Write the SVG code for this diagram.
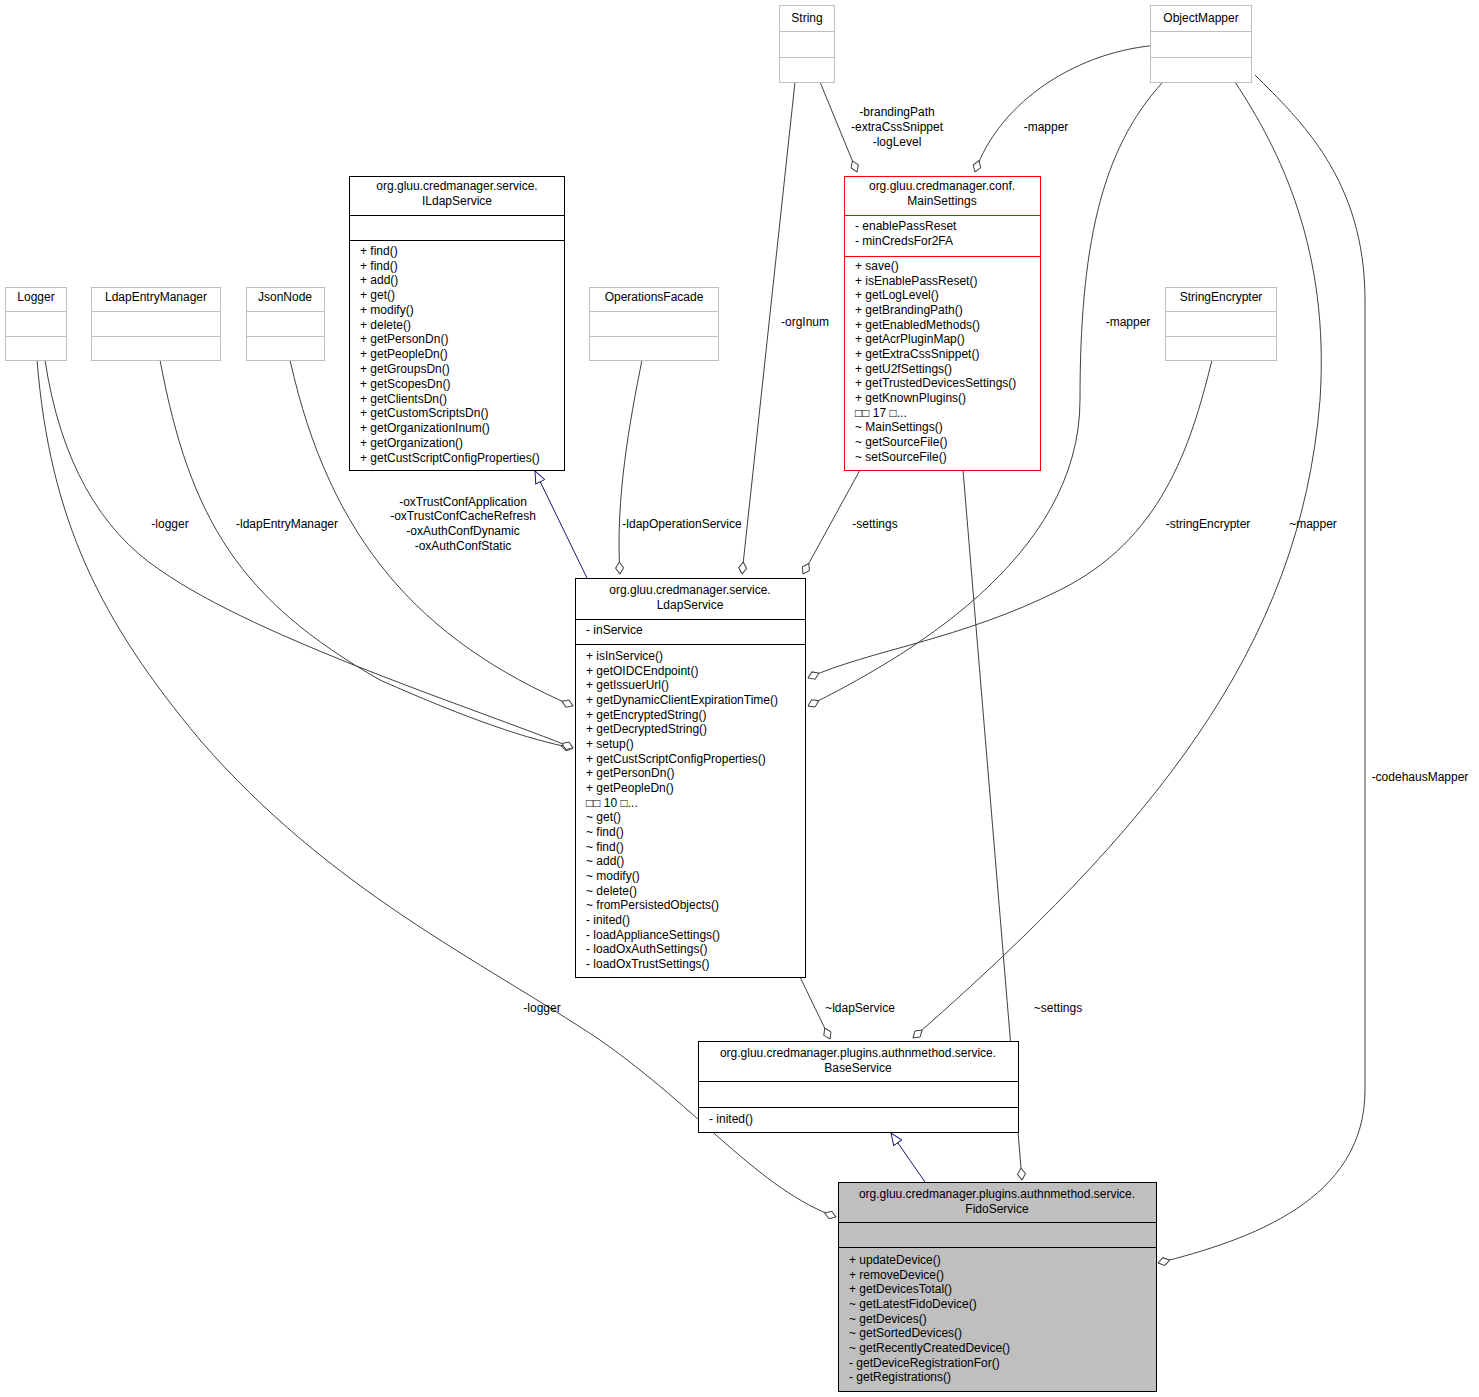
<svg xmlns="http://www.w3.org/2000/svg" width="1479" height="1397" viewBox="0 0 1479 1397">
<style>
text{font-family:"Liberation Sans",Arial,sans-serif;font-size:12px;fill:#000}
.c{text-anchor:middle}
.box{fill:#fff;stroke:#000;stroke-width:1}
.gbox{fill:#fff;stroke:#bfbfbf;stroke-width:1}
.rbox{fill:#fff;stroke:#f00;stroke-width:1}
.fbox{fill:#bfbfbf;stroke:#000;stroke-width:1}
.e{fill:none;stroke:#404040;stroke-width:1;marker-end:url(#dia)}
.inh{fill:none;stroke:#191970;stroke-width:1;marker-end:url(#tri)}
</style>
<defs>
<marker id="dia" viewBox="0 0 13 9" refX="12.5" refY="4.5" markerWidth="13" markerHeight="9" markerUnits="userSpaceOnUse" orient="auto"><path d="M0.5,4.5 L6.5,0.5 L12.5,4.5 L6.5,8.5 Z" fill="#fff" stroke="#404040"/></marker>
<marker id="tri" viewBox="0 0 13 11" refX="12.5" refY="5.5" markerWidth="13" markerHeight="11" markerUnits="userSpaceOnUse" orient="auto"><path d="M0.5,0.5 L12.5,5.5 L0.5,10.5 Z" fill="#fff" stroke="#191970"/></marker>
</defs>
<rect width="1479" height="1397" fill="#fff"/>
<g id="edges">
<path class="e" d="M820,82 L857,172"/>
<text class="c" x="897" y="116">-brandingPath</text><text class="c" x="897" y="131">-extraCssSnippet</text><text class="c" x="897" y="146">-logLevel</text>
<path class="e" d="M1160,45 C1080,50 1000,100 975,172"/>
<text class="c" x="1046" y="131">-mapper</text>
<path class="e" d="M795,82 L742,574"/>
<text class="c" x="805" y="326">-orgInum</text>
<path class="e" d="M1163,82 C1100,150 1080,250 1080,400 C1080,560 900,660 808,706"/>
<text class="c" x="1128" y="326">-mapper</text>
<path class="e" d="M1212,360 C1190,450 1160,540 1060,590 C960,640 870,650 808,678"/>
<text class="c" x="1208" y="528">-stringEncrypter</text>
<path class="e" d="M1235,82 C1280,150 1330,250 1320,400 C1300,650 1150,830 913,1038"/>
<text class="c" x="1313" y="528">~mapper</text>
<path class="e" d="M1255,75 C1300,120 1365,180 1365,300 L1365,1090 C1365,1200 1250,1240 1158,1263"/>
<text class="c" x="1420" y="781">-codehausMapper</text>
<path class="e" d="M860,470 L803,574"/>
<text class="c" x="875" y="528">-settings</text>
<path class="e" d="M963,470 L1022,1180"/>
<text class="c" x="1058" y="1012">~settings</text>
<path class="inh" d="M587,578 L535,471"/>
<path class="e" d="M642,360 C630,420 615,500 620,574"/>
<text class="c" x="682" y="528">-ldapOperationService</text>
<path class="e" d="M290,360 C330,540 420,640 573,706"/>
<text class="c" x="463" y="506">-oxTrustConfApplication</text><text class="c" x="463" y="520">-oxTrustConfCacheRefresh</text><text class="c" x="463" y="535">-oxAuthConfDynamic</text><text class="c" x="463" y="550">-oxAuthConfStatic</text>
<path class="e" d="M160,360 C190,520 240,600 380,680 C470,720 530,740 573,748"/>
<text class="c" x="287" y="528">-ldapEntryManager</text>
<path class="e" d="M45,360 C60,460 100,530 160,570 C260,640 480,710 573,748"/>
<text class="c" x="170" y="528">-logger</text>
<path class="e" d="M37,360 C50,520 100,620 200,740 C330,890 480,960 600,1040 C700,1110 760,1190 836,1217"/>
<text class="c" x="542" y="1012">-logger</text>
<path class="e" d="M800,977 L830,1039"/>
<text class="c" x="860" y="1012">~ldapService</text>
<path class="inh" d="M925,1182 L891,1133"/>
</g>
<g id="String"><rect class="gbox" x="779.5" y="5.5" width="55" height="77"/><path d="M779.5,31.5H834.5M779.5,57.5H834.5" stroke="#bfbfbf"/><text class="c" x="807" y="22">String</text></g>
<g id="ObjectMapper"><rect class="gbox" x="1150.5" y="5.5" width="101" height="77"/><path d="M1150.5,31.5H1251.5M1150.5,57.5H1251.5" stroke="#bfbfbf"/><text class="c" x="1201" y="22">ObjectMapper</text></g>
<g id="Logger"><rect class="gbox" x="5.5" y="287.5" width="61" height="73"/><path d="M5.5,311.5H66.5M5.5,336.5H66.5" stroke="#bfbfbf"/><text class="c" x="36" y="301">Logger</text></g>
<g id="LdapEntryManager"><rect class="gbox" x="91.5" y="287.5" width="129" height="73"/><path d="M91.5,311.5H220.5M91.5,336.5H220.5" stroke="#bfbfbf"/><text class="c" x="156" y="301">LdapEntryManager</text></g>
<g id="JsonNode"><rect class="gbox" x="246.5" y="287.5" width="78" height="73"/><path d="M246.5,311.5H324.5M246.5,336.5H324.5" stroke="#bfbfbf"/><text class="c" x="285" y="301">JsonNode</text></g>
<g id="OperationsFacade"><rect class="gbox" x="589.5" y="287.5" width="129" height="73"/><path d="M589.5,311.5H718.5M589.5,336.5H718.5" stroke="#bfbfbf"/><text class="c" x="654" y="301">OperationsFacade</text></g>
<g id="StringEncrypter"><rect class="gbox" x="1165.5" y="287.5" width="111" height="73"/><path d="M1165.5,311.5H1276.5M1165.5,336.5H1276.5" stroke="#bfbfbf"/><text class="c" x="1221" y="301">StringEncrypter</text></g>
<g id="ILdapService"><rect class="box" x="349.5" y="176.5" width="215" height="294"/><path d="M349.5,215.5H564.5M349.5,240.5H564.5" stroke="#000"/>
<text class="c" x="457" y="190">org.gluu.credmanager.service.</text><text class="c" x="457" y="205">ILdapService</text>
<text x="360" y="255">+ find()</text><text x="360" y="270">+ find()</text><text x="360" y="284">+ add()</text><text x="360" y="299">+ get()</text><text x="360" y="314">+ modify()</text><text x="360" y="329">+ delete()</text><text x="360" y="343">+ getPersonDn()</text><text x="360" y="358">+ getPeopleDn()</text><text x="360" y="373">+ getGroupsDn()</text><text x="360" y="388">+ getScopesDn()</text><text x="360" y="403">+ getClientsDn()</text><text x="360" y="417">+ getCustomScriptsDn()</text><text x="360" y="432">+ getOrganizationInum()</text><text x="360" y="447">+ getOrganization()</text><text x="360" y="462">+ getCustScriptConfigProperties()</text></g>
<g id="MainSettings"><rect class="rbox" x="844.5" y="176.5" width="196" height="294"/><path d="M844.5,215.5H1040.5M844.5,256.5H1040.5" stroke="#f00"/>
<text class="c" x="942" y="190">org.gluu.credmanager.conf.</text><text class="c" x="942" y="205">MainSettings</text>
<text x="855" y="230">- enablePassReset</text><text x="855" y="245">- minCredsFor2FA</text>
<text x="855" y="270">+ save()</text><text x="855" y="285">+ isEnablePassReset()</text><text x="855" y="299">+ getLogLevel()</text><text x="855" y="314">+ getBrandingPath()</text><text x="855" y="329">+ getEnabledMethods()</text><text x="855" y="343">+ getAcrPluginMap()</text><text x="855" y="358">+ getExtraCssSnippet()</text><text x="855" y="373">+ getU2fSettings()</text><text x="855" y="387">+ getTrustedDevicesSettings()</text><text x="855" y="402">+ getKnownPlugins()</text><text x="855" y="417">□□ 17 □...</text><text x="855" y="431">~ MainSettings()</text><text x="855" y="446">~ getSourceFile()</text><text x="855" y="461">~ setSourceFile()</text></g>
<g id="LdapService"><rect class="box" x="575.5" y="578.5" width="230" height="399"/><path d="M575.5,619.5H805.5M575.5,644.5H805.5" stroke="#000"/>
<text class="c" x="690" y="594">org.gluu.credmanager.service.</text><text class="c" x="690" y="609">LdapService</text>
<text x="586" y="634">- inService</text>
<text x="586" y="660">+ isInService()</text><text x="586" y="675">+ getOIDCEndpoint()</text><text x="586" y="689">+ getIssuerUrl()</text><text x="586" y="704">+ getDynamicClientExpirationTime()</text><text x="586" y="719">+ getEncryptedString()</text><text x="586" y="733">+ getDecryptedString()</text><text x="586" y="748">+ setup()</text><text x="586" y="763">+ getCustScriptConfigProperties()</text><text x="586" y="777">+ getPersonDn()</text><text x="586" y="792">+ getPeopleDn()</text><text x="586" y="807">□□ 10 □...</text><text x="586" y="821">~ get()</text><text x="586" y="836">~ find()</text><text x="586" y="851">~ find()</text><text x="586" y="865">~ add()</text><text x="586" y="880">~ modify()</text><text x="586" y="895">~ delete()</text><text x="586" y="909">~ fromPersistedObjects()</text><text x="586" y="924">- inited()</text><text x="586" y="939">- loadApplianceSettings()</text><text x="586" y="953">- loadOxAuthSettings()</text><text x="586" y="968">- loadOxTrustSettings()</text></g>
<g id="BaseService"><rect class="box" x="698.5" y="1041.5" width="320" height="91"/><path d="M698.5,1081.5H1018.5M698.5,1107.5H1018.5" stroke="#000"/>
<text class="c" x="858" y="1057">org.gluu.credmanager.plugins.authnmethod.service.</text><text class="c" x="858" y="1072">BaseService</text>
<text x="709" y="1123">- inited()</text></g>
<g id="FidoService"><rect class="fbox" x="838.5" y="1182.5" width="318" height="209"/><path d="M838.5,1222.5H1156.5M838.5,1247.5H1156.5" stroke="#000"/>
<text class="c" x="997" y="1198">org.gluu.credmanager.plugins.authnmethod.service.</text><text class="c" x="997" y="1213">FidoService</text>
<text x="849" y="1264">+ updateDevice()</text><text x="849" y="1279">+ removeDevice()</text><text x="849" y="1293">+ getDevicesTotal()</text><text x="849" y="1308">~ getLatestFidoDevice()</text><text x="849" y="1323">~ getDevices()</text><text x="849" y="1337">~ getSortedDevices()</text><text x="849" y="1352">~ getRecentlyCreatedDevice()</text><text x="849" y="1367">- getDeviceRegistrationFor()</text><text x="849" y="1381">- getRegistrations()</text></g>
</svg>
